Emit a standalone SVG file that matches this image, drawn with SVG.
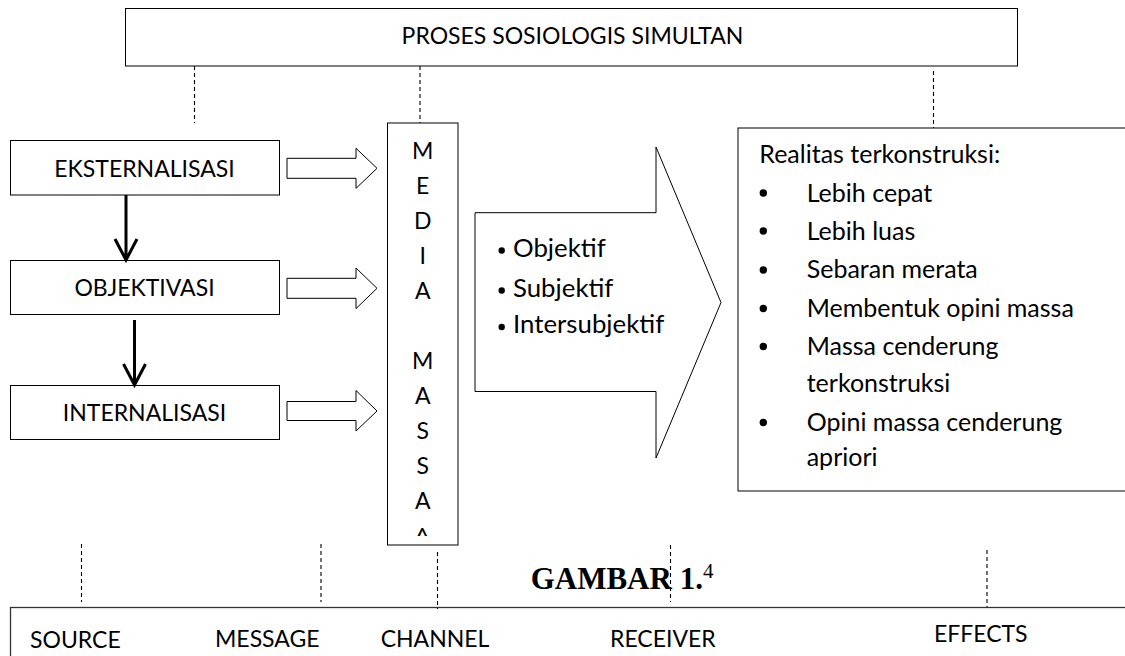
<svg xmlns="http://www.w3.org/2000/svg" width="1125" height="656" viewBox="0 0 1125 656">
<defs>
<style>
.box{fill:#fff;stroke:#000;stroke-width:1}
.t{font-family:Lato,"Open Sans",sans-serif;font-size:23px;fill:#000}
.lc{font-size:25px}
.lc2{font-size:25.8px}
.m{text-anchor:middle}
.dash{stroke:#000;stroke-width:1.1;stroke-dasharray:4 3;fill:none}
.thick{stroke:#000;stroke-width:3;fill:none}
.hollow{fill:#fff;stroke:#000;stroke-width:1}
.cap{font-family:"Liberation Serif","Times New Roman",serif;fill:#000}
</style>
</defs>
<rect width="1125" height="656" fill="#fff"/>

<g id="node-proses">
<rect class="box" x="125.5" y="8.5" width="892" height="57.5"/>
<text class="t m" x="572.5" y="43.5">PROSES SOSIOLOGIS SIMULTAN</text>
</g>

<g id="node-eksternalisasi">
<rect class="box" x="10.5" y="140.5" width="269" height="54.5"/>
<text class="t m" x="144.5" y="176.5">EKSTERNALISASI</text>
</g>

<g id="node-objektivasi">
<rect class="box" x="10.5" y="260.5" width="269" height="54"/>
<text class="t m" x="144.5" y="296">OBJEKTIVASI</text>
</g>

<g id="node-internalisasi">
<rect class="box" x="10.5" y="385.5" width="269" height="54"/>
<text class="t m" x="144.5" y="421">INTERNALISASI</text>
</g>

<g id="node-media">
<rect class="box" x="387.5" y="123" width="70.5" height="422"/>
<g class="t m">
<text x="422.7" y="159">M</text>
<text x="422.7" y="194">E</text>
<text x="422.7" y="229">D</text>
<text x="422.7" y="264">I</text>
<text x="422.7" y="299">A</text>
<text x="422.7" y="369">M</text>
<text x="422.7" y="404">A</text>
<text x="422.7" y="439">S</text>
<text x="422.7" y="474">S</text>
<text x="422.7" y="509">A</text>
<text x="422.3" y="543" style="font-size:20px;font-weight:bold">^</text>
</g>
</g>

<g id="node-realitas-arrow">
<polygon class="hollow" points="475,212.7 656,212.7 656,147 721,302.5 656,458 656,391.5 475,391.5"/>
<circle cx="501.7" cy="250.5" r="3.2"/>
<circle cx="501.7" cy="290.5" r="3.2"/>
<circle cx="501.7" cy="327" r="3.2"/>
<text class="t lc2" x="513" y="256.7">Objektif</text>
<text class="t lc2" x="513" y="296.7">Subjektif</text>
<text class="t lc2" x="513" y="333.3">Intersubjektif</text>
</g>

<g id="node-realitas">
<rect class="box" x="738" y="128" width="400" height="363"/>
<text class="t lc" x="759.3" y="163.3">Realitas terkonstruksi:</text>
<circle cx="763.3" cy="193" r="3.7"/>
<circle cx="763.3" cy="231" r="3.7"/>
<circle cx="763.3" cy="270" r="3.7"/>
<circle cx="763.3" cy="308.5" r="3.7"/>
<circle cx="763.3" cy="346.5" r="3.7"/>
<circle cx="763.3" cy="422.5" r="3.7"/>
<text class="t lc" x="806.7" y="201.7">Lebih cepat</text>
<text class="t lc" x="806.7" y="239.5">Lebih luas</text>
<text class="t lc" x="806.7" y="278.3">Sebaran merata</text>
<text class="t lc" x="806.7" y="316.7">Membentuk opini massa</text>
<text class="t lc" x="806.7" y="355">Massa cenderung</text>
<text class="t lc" x="806.7" y="391.7">terkonstruksi</text>
<text class="t lc" x="806.7" y="431">Opini massa cenderung</text>
<text class="t lc" x="806.7" y="465.7">apriori</text>
</g>

<g id="node-smcre">
<rect class="box" x="10.5" y="607.5" width="1130" height="60" style="stroke:#333;stroke-width:1.3"/>
<text class="t" x="30" y="648.3">SOURCE</text>
<text class="t" x="215" y="646.7">MESSAGE</text>
<text class="t" x="380.7" y="647.3">CHANNEL</text>
<text class="t" x="610" y="647.3">RECEIVER</text>
<text class="t" x="934" y="642.3">EFFECTS</text>
</g>

<g id="caption">
<text class="cap" x="530.7" y="589" style="font-size:31px;font-weight:bold">GAMBAR 1.<tspan style="font-size:21px;font-weight:normal" dy="-11">4</tspan></text>
</g>

<g id="connectors">
<line class="dash" x1="194.5" y1="66" x2="194.5" y2="123"/>
<line class="dash" x1="420" y1="66" x2="420" y2="123"/>
<line class="dash" x1="933.5" y1="71" x2="933.5" y2="128"/>
<line class="dash" x1="81.5" y1="544" x2="81.5" y2="602"/>
<line class="dash" x1="321" y1="544" x2="321" y2="602"/>
<line class="dash" x1="437.5" y1="552" x2="437.5" y2="609"/>
<line class="dash" x1="670.5" y1="545" x2="670.5" y2="602"/>
<line class="dash" x1="987" y1="550" x2="987" y2="607"/>
<path class="thick" d="M126 195 V258 M115 239 L126 260 L137 239"/>
<path class="thick" d="M134.5 320 V383 M123.5 364 L134.5 385 L145.5 364"/>
<polygon class="hollow" points="287,158.3 356,158.3 356,148.3 377,168.3 356,188.3 356,178.3 287,178.3"/>
<polygon class="hollow" points="287,278.3 356,278.3 356,268 377,288.3 356,308.6 356,298.3 287,298.3"/>
<polygon class="hollow" points="287,401.5 356,401.5 356,390.5 377,411 356,431 356,420.5 287,420.5"/>
</g>
</svg>
